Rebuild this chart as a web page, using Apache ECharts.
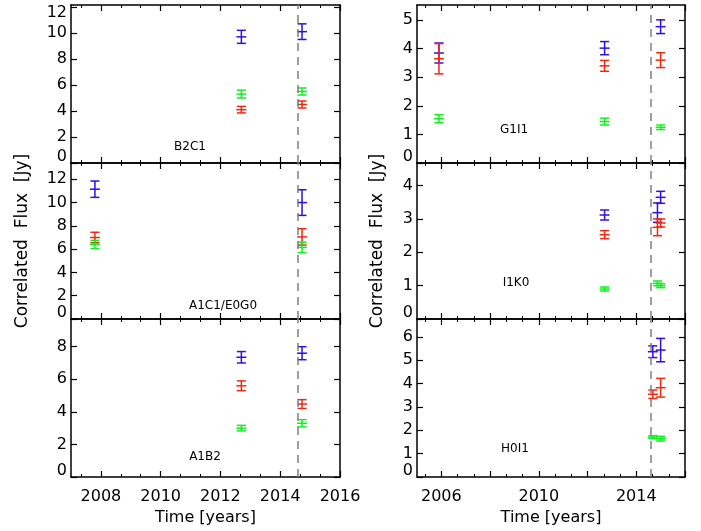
<!DOCTYPE html>
<html>
<head>
<meta charset="utf-8">
<script src="https://cdn.jsdelivr.net/npm/echarts@6/dist/echarts.min.js"></script>
<style>html,body{margin:0;padding:0;background:#fff}#main{width:701px;height:531px}</style>
</head>
<body>
<div id="main"></div>
<script>
// baselines, one panel each (left column then right column)
var panelNames = ['B2C1', 'A1C1/E0G0', 'A1B2', 'G1I1', 'I1K0', 'H0I1'];

// [epoch, correlated flux, error] per colour
var b2c1Blue = [[2012.7, 9.7, 0.5], [2014.73, 10.1, 0.6]];
var b2c1Red = [[2012.7, 4.1, 0.25], [2014.73, 4.5, 0.27]];
var b2c1Green = [[2012.7, 5.3, 0.3], [2014.73, 5.5, 0.27]];

var a1c1Blue = [[2007.8, 11.15, 0.7], [2014.73, 10.0, 1.1]];
var a1c1Red = [[2007.8, 7.0, 0.45], [2014.73, 7.05, 0.7]];
var a1c1Green = [[2007.8, 6.4, 0.35], [2014.73, 6.15, 0.45]];

var a1b2Blue = [[2012.7, 7.35, 0.35], [2014.73, 7.6, 0.4]];
var a1b2Red = [[2012.7, 5.6, 0.3], [2014.73, 4.48, 0.27]];
var a1b2Green = [[2012.7, 3.0, 0.17], [2014.73, 3.3, 0.22]];

var g1i1Blue = [[2005.9, 3.85, 0.35], [2012.7, 4.02, 0.23], [2015.0, 4.77, 0.24]];
var g1i1Red = [[2005.9, 3.65, 0.53], [2012.7, 3.4, 0.19], [2015.0, 3.6, 0.26]];
var g1i1Green = [[2005.9, 1.55, 0.14], [2012.7, 1.45, 0.12], [2015.0, 1.25, 0.08]];

var i1k0Blue = [[2012.7, 3.12, 0.15], [2014.87, 3.19, 0.29], [2015.0, 3.65, 0.18]];
var i1k0Red = [[2012.7, 2.53, 0.12], [2014.87, 2.75, 0.25], [2015.0, 2.88, 0.12]];
var i1k0Green = [[2012.7, 0.9, 0.06], [2014.87, 1.07, 0.07], [2015.0, 1.0, 0.06]];

var h0i1Blue = [[2014.68, 5.36, 0.25], [2015.0, 5.43, 0.5]];
var h0i1Red = [[2014.68, 3.54, 0.18], [2015.0, 3.82, 0.4]];
var h0i1Green = [[2014.68, 1.71, 0.06], [2015.0, 1.64, 0.1]];

var blueSets = [b2c1Blue, a1c1Blue, a1b2Blue, g1i1Blue, i1k0Blue, h0i1Blue];
var redSets = [b2c1Red, a1c1Red, a1b2Red, g1i1Red, i1k0Red, h0i1Red];
var greenSets = [b2c1Green, a1c1Green, a1b2Green, g1i1Green, i1k0Green, h0i1Green];

var dashYear = 2014.6;

// axis ranges and tick labels
var yMax = [12.15, 13.4, 9.7, 5.53, 4.68, 6.76];
var yTicks = [
    [0, 2, 4, 6, 8, 10, 12], [0, 2, 4, 6, 8, 10, 12], [0, 2, 4, 6, 8],
    [0, 1, 2, 3, 4, 5], [0, 1, 2, 3, 4], [0, 1, 2, 3, 4, 5, 6]
];
var xMin = [2007, 2005];
var xMax = 2016;
var leftYears = [2008, 2010, 2012, 2014, 2016];
var rightYears = [2006, 2010, 2014];
var majorYears = [[2008, 2010, 2012, 2014, 2016], [2006, 2008, 2010, 2012, 2014, 2016]];

// layout
var colLeft = [71, 417], colWidth = [269, 268];
var rowTop = [5, 163, 319], rowHeight = [158, 156, 158];
var yNameGap = [40, 31];
var namePos = [[190, 147], [223, 306], [205, 457], [514, 130], [516, 283], [515, 449]];

var FONT = 'DejaVu Sans';
var colors = { blue: '#3010e0', red: '#f02810', green: '#10f020' };

// minor ticks every 2/3 year, counted from the first major tick
function minorTicks(col) {
    var out = [], start = majorYears[col][0];
    for (var k = -3; k < 40; k++) {
        var v = start + k * 2 / 3;
        if (v > xMin[col] + 0.01 && v < xMax - 0.01) out.push(v);
    }
    return out;
}

function renderBar(params, api) {
    var x = api.value(0), y = api.value(1), e = api.value(2);
    var c = api.coord([x, y]);
    var lo = api.coord([x, y - e]);
    var hi = api.coord([x, y + e]);
    var col = api.visual('color');
    function ln(x1, y1, x2, y2) {
        return { type: 'line', shape: { x1: x1, y1: y1, x2: x2, y2: y2 }, style: { stroke: col, lineWidth: 1.5 } };
    }
    return {
        type: 'group', children: [
            ln(c[0], lo[1], c[0], hi[1]),
            ln(c[0] - 4.5, lo[1], c[0] + 4.5, lo[1]),
            ln(c[0] - 4.5, hi[1], c[0] + 4.5, hi[1]),
            ln(c[0] - 5, c[1], c[0] + 5, c[1])
        ]
    };
}

var grids = [], xAxes = [], yAxes = [], series = [], graphics = [];

for (var p = 0; p < 6; p++) {
    var col = p < 3 ? 0 : 1, row = p % 3;
    grids.push({ left: colLeft[col], top: rowTop[row], width: colWidth[col], height: rowHeight[row] });

    var xi = xAxes.length, yi = yAxes.length;
    var minors = minorTicks(col);
    ['bottom', 'top'].forEach(function (pos) {
        xAxes.push({
            gridIndex: p, type: 'value', min: xMin[col], max: xMax, position: pos,
            axisLine: { show: true, onZero: false, lineStyle: { color: '#000', width: 1.5 } },
            axisTick: { show: true, inside: true, length: 6, customValues: majorYears[col], lineStyle: { color: '#000', width: 1.2 } },
            axisLabel: {
                show: pos === 'bottom' && row === 2, customValues: col ? rightYears : leftYears,
                fontSize: 16, fontFamily: FONT, color: '#000', margin: 12,
                showMinLabel: true, showMaxLabel: true,
                formatter: function (v) { return String(v); }
            },
            splitLine: { show: false },
            name: (pos === 'bottom' && row === 2) ? 'Time [years]' : '',
            nameLocation: 'middle', nameGap: 33,
            nameTextStyle: { fontSize: 16, fontFamily: FONT, color: '#000' }
        });
        xAxes.push({
            gridIndex: p, type: 'value', min: xMin[col], max: xMax, position: pos,
            axisLine: { show: false, onZero: false },
            axisTick: { show: true, inside: true, length: 3, customValues: minors, lineStyle: { color: '#000', width: 1 } },
            axisLabel: { show: false },
            splitLine: { show: false }
        });
    });
    ['left', 'right'].forEach(function (pos) {
        yAxes.push({
            gridIndex: p, type: 'value', min: 0, max: yMax[p], position: pos,
            axisLine: { show: true, onZero: false, lineStyle: { color: '#000', width: 1.5 } },
            axisTick: { show: true, inside: true, length: 6, customValues: yTicks[p], lineStyle: { color: '#000', width: 1.2 } },
            axisLabel: {
                show: pos === 'left', customValues: yTicks[p],
                fontSize: 16, fontFamily: FONT, color: '#000', margin: 4, lineHeight: 12,
                showMinLabel: true, showMaxLabel: true,
                verticalAlignMinLabel: 'bottom',
                verticalAlignMaxLabel: p === 0 ? 'top' : 'middle'
            },
            splitLine: { show: false },
            name: (pos === 'left' && row === 1) ? 'Correlated  Flux  [Jy]' : '',
            nameLocation: 'middle', nameGap: yNameGap[col],
            nameTextStyle: { fontSize: 17, fontFamily: FONT, color: '#000' }
        });
    });

    series.push({
        type: 'line', xAxisIndex: xi, yAxisIndex: yi, data: [], silent: true,
        markLine: {
            silent: true, symbol: 'none', label: { show: false },
            lineStyle: { color: '#808080', type: [8, 6], width: 1.5 },
            data: [{ xAxis: dashYear }]
        }
    });
    [['blue', blueSets], ['red', redSets], ['green', greenSets]].forEach(function (s) {
        series.push({
            type: 'custom', xAxisIndex: xi, yAxisIndex: yi,
            renderItem: renderBar, data: s[1][p],
            itemStyle: { color: colors[s[0]] },
            encode: { x: 0, y: 1 }
        });
    });

    graphics.push({
        type: 'text', x: namePos[p][0], y: namePos[p][1],
        style: { text: panelNames[p], fontSize: 12, fontFamily: FONT, fill: '#000', align: 'center', verticalAlign: 'middle' }
    });
}

var myChart = echarts.init(document.getElementById('main'));
myChart.setOption({
    animation: false,
    backgroundColor: '#fff',
    grid: grids,
    xAxis: xAxes,
    yAxis: yAxes,
    series: series,
    graphic: graphics
});
</script>
</body>
</html>
